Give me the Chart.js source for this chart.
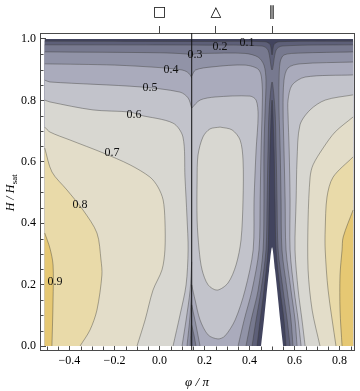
<!DOCTYPE html>
<html><head><meta charset="utf-8">
<script src="https://cdn.jsdelivr.net/npm/chart.js@4.4.1/dist/chart.umd.min.js"></script>
<style>html,body{margin:0;padding:0;background:#fff}canvas{display:block}</style>
</head><body>
<canvas id="c" width="360" height="391"></canvas>
<script>
// ===== axes =====
const X_MIN=-0.531, X_MAX=0.864, Y_MIN=-0.013, Y_MAX=1.0195;
const DOM_X0=-0.51, DOM_X1=0.86, DOM_Y0=0, DOM_Y1=1.0;
const X_TICKS=[-0.4,-0.2,0,0.2,0.4,0.6,0.8];
const Y_TICKS=[0,0.2,0.4,0.6,0.8,1.0];
const TOP_MARKS=[0,0.25,0.5];
const TOP_LABELS=['□','△','∥'];
const DIVIDER_X=0.143;
const MINOR_STEP=0.05;

// ===== contour lines, [phi/pi, H/Hsat] =====
const C01_TOP=[[-0.51,0.993],[0.2,0.992],[0.469,0.991],[0.491,0.982],[0.5,0.948],[0.509,0.982],[0.531,0.991],[0.86,0.993]];
const C01_CORE=[[0.433,0],[0.447,0.085],[0.464,0.182],[0.482,0.313],[0.487,0.476],[0.491,0.638],[0.5,0.801],[0.509,0.638],[0.513,0.476],[0.518,0.313],[0.536,0.182],[0.553,0.085],[0.562,0]];
const C02_TOP=[[-0.51,0.981],[0.2,0.98],[0.456,0.977],[0.482,0.964],[0.5,0.899],[0.518,0.964],[0.544,0.977],[0.86,0.981]];
const C02_CORE=[[0.411,0],[0.429,0.085],[0.451,0.182],[0.473,0.313],[0.478,0.476],[0.482,0.638],[0.487,0.769],[0.5,0.86],[0.513,0.769],[0.518,0.638],[0.522,0.476],[0.527,0.313],[0.549,0.182],[0.567,0.085],[0.58,0]];
const C03_L=[[-0.51,0.958],[0.0,0.955],[0.12,0.951],[0.135,0.946],[0.143,0.938]];
const C03_R=[[0.143,0.941],[0.153,0.951],[0.2,0.953],[0.38,0.953],[0.438,0.941],[0.464,0.915],[0.473,0.866],[0.469,0.769],[0.464,0.638],[0.464,0.476],[0.46,0.313],[0.438,0.182],[0.407,0.085],[0.384,0]];
const C03_VR=[[0.593,0],[0.584,0.085],[0.567,0.182],[0.544,0.313],[0.54,0.476],[0.536,0.638],[0.531,0.769],[0.531,0.866],[0.536,0.925],[0.553,0.948],[0.624,0.954],[0.86,0.958]];
const C03_DL=[[0.143,0.134],[0.14,0.068],[0.136,0]];
const C03_DR=[[0.143,0.068],[0.153,0.036],[0.162,0]];
const C04_L=[[-0.51,0.919],[-0.2,0.915],[0.016,0.906],[0.1,0.899],[0.122,0.893],[0.136,0.883],[0.143,0.873]];
const C04_R=[[0.143,0.879],[0.16,0.899],[0.233,0.909],[0.38,0.915],[0.442,0.899],[0.456,0.85],[0.456,0.769],[0.451,0.638],[0.447,0.476],[0.442,0.313],[0.411,0.182],[0.376,0.085],[0.349,0]];
const C04_VR=[[0.611,0],[0.602,0.085],[0.584,0.182],[0.562,0.313],[0.558,0.476],[0.553,0.638],[0.549,0.769],[0.553,0.866],[0.571,0.906],[0.624,0.919],[0.86,0.925]];
const C04_DL=[[0.143,0.199],[0.136,0.101],[0.122,0]];
const C04_DR=[[0.143,0.134],[0.162,0.068],[0.18,0]];
const C05_L=[[-0.51,0.866],[-0.487,0.86],[-0.087,0.844],[0.091,0.827],[0.127,0.808],[0.143,0.775]];
const C05_R=[[0.143,0.775],[0.18,0.801],[0.247,0.811],[0.402,0.814],[0.429,0.801],[0.438,0.752],[0.429,0.638],[0.42,0.476],[0.416,0.313],[0.38,0.182],[0.336,0.085],[0.291,0.033],[0.26,0.023],[0.216,0.036],[0.18,0.085],[0.158,0.15],[0.143,0.199]];
const C05_DL=[[0.143,0.274],[0.136,0.182],[0.118,0.085],[0.1,0]];
const C05_VR=[[0.629,0],[0.616,0.085],[0.598,0.182],[0.58,0.313],[0.58,0.476],[0.576,0.638],[0.571,0.752],[0.571,0.801],[0.589,0.85],[0.647,0.876],[0.86,0.883]];
const C06_L=[[-0.51,0.801],[-0.487,0.795],[-0.296,0.769],[-0.131,0.762],[-0.087,0.752],[0.06,0.726],[0.104,0.681],[0.113,0.55],[0.122,0.42],[0.127,0.313],[0.118,0.199],[0.091,0.101],[0.06,0]];
const C06_OVAL=[[0.269,0.713],[0.322,0.704],[0.358,0.671],[0.371,0.606],[0.371,0.476],[0.362,0.345],[0.34,0.264],[0.304,0.205],[0.256,0.182],[0.216,0.199],[0.189,0.248],[0.176,0.313],[0.167,0.41],[0.167,0.541],[0.171,0.622],[0.193,0.681],[0.224,0.707],[0.269,0.713]];
const C06_R=[[0.647,0],[0.633,0.085],[0.616,0.182],[0.602,0.313],[0.607,0.476],[0.611,0.606],[0.624,0.72],[0.669,0.769],[0.736,0.801],[0.86,0.818]];
const C07_L=[[-0.51,0.713],[-0.487,0.697],[-0.398,0.671],[-0.251,0.629],[-0.131,0.59],[-0.042,0.55],[-0.007,0.518],[0.016,0.476],[0.024,0.41],[0.024,0.313],[0.011,0.248],[-0.029,0.182],[-0.064,0.085],[-0.1,0]];
const C07_R=[[0.713,0],[0.678,0.117],[0.66,0.248],[0.66,0.41],[0.669,0.55],[0.682,0.59],[0.727,0.645],[0.78,0.697],[0.86,0.746]];
const C08_L=[[-0.51,0.645],[-0.478,0.567],[-0.411,0.508],[-0.34,0.443],[-0.278,0.368],[-0.26,0.28],[-0.256,0.231],[-0.278,0.117],[-0.309,0.052],[-0.353,0]];
const C08_R=[[0.784,0],[0.749,0.182],[0.736,0.313],[0.736,0.378],[0.744,0.485],[0.771,0.55],[0.86,0.616]];
const C09_L=[[-0.51,0.368],[-0.487,0.319],[-0.473,0.264],[-0.473,0.15],[-0.478,0]];
const C09_R=[[0.811,0],[0.802,0.117],[0.802,0.231],[0.811,0.313],[0.816,0.355],[0.86,0.443]];
// region where nothing is plotted
const WHITE_GAP=[[0.451,0],[0.464,0.085],[0.473,0.15],[0.487,0.248],[0.5,0.322],[0.513,0.248],[0.527,0.15],[0.536,0.085],[0.549,0]];

// contour labels
const LABEL_TEXT=['0.1','0.2','0.3','0.4','0.5','0.6','0.7','0.8','0.9'];
const LABEL_X=[0.389,0.269,0.158,0.051,-0.042,-0.113,-0.211,-0.353,-0.464];
const LABEL_Y=[0.987,0.974,0.948,0.899,0.840,0.752,0.629,0.459,0.208];

// band colours, value <0.1 ... >0.9
const BAND=['#42445e','#5d5f78','#77798f','#9193a7','#aaabbc','#c2c3cb','#d8d7d1','#e3ddc9','#e9daa9','#e6c873'];
const SERIF="'Liberation Serif','DejaVu Serif',serif";
const FRAME='#4a4a4a';
const TENSION=0.3;

// ===== build polygons (superlevel sets) from the contour pieces =====
const BL=[[DOM_X0,DOM_Y0]], BR=[[DOM_X1,DOM_Y0]], TL=[[DOM_X0,DOM_Y1]], TR=[[DOM_X1,DOM_Y1]];
const rev=a=>a.slice().reverse();
const pts=a=>a.map(([x,y])=>({x,y}));
// ends of each piece are doubled so the spline keeps corners sharp and matches the stroked line
function poly(...parts){
  const out=[];
  parts.forEach(p=>{out.push(p[0]);p.forEach(q=>out.push(q));out.push(p[p.length-1]);});
  return pts(out);
}
const FILLS=[
  [0,poly(BL,TL,TR,BR)],
  [1,poly(C01_TOP,BR,rev(C01_CORE),BL)],
  [2,poly(C02_TOP,BR,rev(C02_CORE),BL)],
  [3,poly(C03_L,C03_R,rev(C03_DR),C03_DL,BL)],[3,poly(C03_VR,BR)],
  [4,poly(C04_L,C04_R,rev(C04_DR),C04_DL,BL)],[4,poly(C04_VR,BR)],
  [5,poly(C05_L,C05_DL,BL)],[5,poly(C05_R)],[5,poly(C05_VR,BR)],
  [6,poly(C06_L,BL)],[6,poly(C06_OVAL)],[6,poly(C06_R,BR)],
  [7,poly(C07_L,BL)],[7,poly(C07_R,BR)],
  [8,poly(C08_L,BL)],[8,poly(C08_R,BR)],
  [9,poly(C09_L,BL)],[9,poly(C09_R,BR)]
];
const LINES=[C01_TOP,C01_CORE,C02_TOP,C02_CORE,C03_L,C03_R,C03_VR,C03_DL,C03_DR,
  C04_L,C04_R,C04_VR,C04_DL,C04_DR,C05_L,C05_R,C05_DL,C05_VR,C06_L,C06_OVAL,C06_R,
  C07_L,C07_R,C08_L,C08_R,C09_L,C09_R];

const ds=[];
FILLS.forEach(([k,p])=>ds.push({data:p,backgroundColor:BAND[k],borderWidth:0,fill:'shape',pointRadius:0,tension:TENSION}));
LINES.forEach(a=>ds.push({data:pts(a),borderColor:'rgba(55,55,50,0.5)',borderWidth:0.8,fill:false,pointRadius:0,tension:TENSION}));
ds.push({data:poly(WHITE_GAP),backgroundColor:'#fff',borderWidth:0,fill:'shape',pointRadius:0,tension:TENSION});
ds.push({data:[{x:DIVIDER_X,y:Y_MIN},{x:DIVIDER_X,y:Y_MAX}],borderColor:'#111',borderWidth:1,fill:false,pointRadius:0,tension:0});
ds.reverse(); // chart.js paints dataset 0 last

// ===== plugins =====
const minorTicks={id:'minorTicks',afterDraw(chart){
  const {ctx,chartArea:a,scales:{x,y}}=chart;
  ctx.save();ctx.strokeStyle=FRAME;ctx.lineWidth=1;ctx.beginPath();
  for(let i=-10;i<=17;i++){if(i%4===0)continue;
    const px=Math.round(x.getPixelForValue(i*MINOR_STEP))+0.5;
    ctx.moveTo(px,a.bottom);ctx.lineTo(px,a.bottom-3.5);}
  for(let i=1;i<=19;i++){if(i%4===0)continue;
    const py=Math.round(y.getPixelForValue(i*MINOR_STEP))+0.5;
    ctx.moveTo(a.left,py);ctx.lineTo(a.left+3.5,py);}
  ctx.stroke();ctx.restore();
}};
const yTitle={id:'yTitle',afterDraw(chart){
  const ctx=chart.ctx;ctx.save();
  ctx.translate(10,193);ctx.rotate(-Math.PI/2);
  ctx.fillStyle='#000';ctx.textBaseline='alphabetic';
  ctx.font='italic 12px '+SERIF;const w1=ctx.measureText('H / H').width;
  ctx.font='9px '+SERIF;const w2=ctx.measureText('sat').width;
  const x0=-(w1+w2)/2;
  ctx.font='italic 12px '+SERIF;ctx.fillText('H / H',x0,4);
  ctx.font='9px '+SERIF;ctx.fillText('sat',x0+w1+0.5,7);
  ctx.restore();
}};
const contourLabels={id:'contourLabels',beforeDatasetDraw(chart,args){
  if(args.index!==0)return;
  const {ctx,scales:{x,y}}=chart;
  ctx.save();ctx.font='12px '+SERIF;ctx.fillStyle='#111';ctx.textAlign='center';ctx.textBaseline='middle';
  LABEL_TEXT.forEach((t,i)=>ctx.fillText(t,x.getPixelForValue(LABEL_X[i]),y.getPixelForValue(LABEL_Y[i])));
  ctx.restore();
}};

const fmt=v=>(v<0?'\u2212':'')+Math.abs(v).toFixed(1);
const tickFont={family:SERIF,size:12};

new Chart(document.getElementById('c'),{
  type:'line',
  data:{datasets:ds},
  options:{
    responsive:false,devicePixelRatio:1,animation:false,events:[],
    layout:{padding:0},
    plugins:{legend:{display:false},tooltip:{enabled:false}},
    scales:{
      x:{type:'linear',position:'bottom',min:X_MIN,max:X_MAX,
        afterBuildTicks:s=>{s.ticks=X_TICKS.map(v=>({value:v}));},
        afterFit:s=>{s.height=41;},
        ticks:{callback:v=>fmt(v),font:tickFont,color:'#000',padding:10,maxRotation:0,autoSkip:false},
        grid:{drawOnChartArea:false,tickLength:-6,tickColor:FRAME},
        border:{display:true,color:FRAME,width:1},
        title:{display:true,text:'φ / π',color:'#000',font:{family:SERIF,size:13,style:'italic'},padding:{top:0,bottom:1}}},
      xTop:{type:'linear',position:'top',min:X_MIN,max:X_MAX,
        afterBuildTicks:s=>{s.ticks=TOP_MARKS.map(v=>({value:v}));},
        afterFit:s=>{s.height=33;},
        ticks:{callback:(v,i)=>TOP_LABELS[i],font:{family:'DejaVu Sans',size:14},color:'#000',padding:5,maxRotation:0,autoSkip:false},
        grid:{drawOnChartArea:false,tickLength:7,tickColor:FRAME},
        border:{display:true,color:FRAME,width:1}},
      y:{type:'linear',position:'left',min:Y_MIN,max:Y_MAX,
        afterBuildTicks:s=>{s.ticks=Y_TICKS.map(v=>({value:v}));},
        afterFit:s=>{s.width=40;},
        ticks:{callback:v=>fmt(v),font:tickFont,color:'#000',padding:10,autoSkip:false},
        grid:{drawOnChartArea:false,tickLength:-6,tickColor:FRAME},
        border:{display:true,color:FRAME,width:1}},
      yR:{type:'linear',position:'right',min:Y_MIN,max:Y_MAX,
        afterFit:s=>{s.width=6;},
        ticks:{display:false},
        grid:{drawOnChartArea:false,drawTicks:false},
        border:{display:true,color:FRAME,width:1}}
    }
  },
  plugins:[minorTicks,yTitle,contourLabels]
});
</script>
</body></html>
